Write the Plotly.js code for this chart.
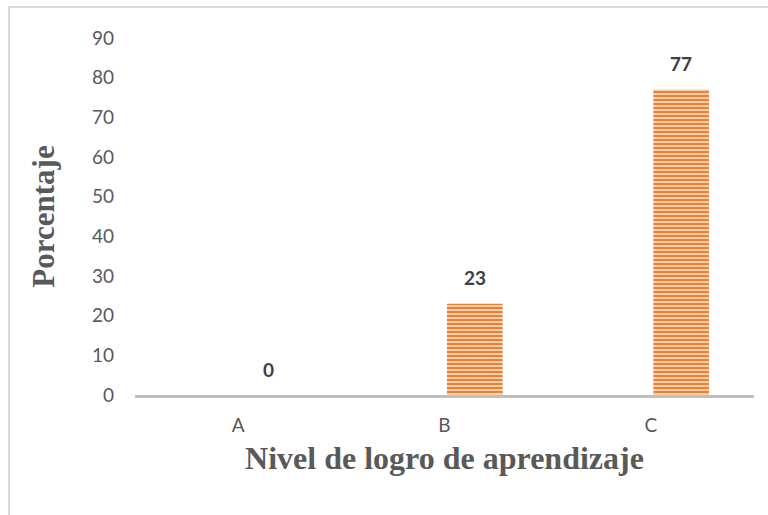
<!DOCTYPE html>
<html>
<head>
<meta charset="utf-8">
<script src="https://cdn.plot.ly/plotly-3.0.1.min.js"></script>
<style>html,body{margin:0;padding:0;background:#fff;}#chart{width:768px;height:515px;}</style>
</head>
<body>
<div id="chart"></div>
<script>
var categories = ["A", "B", "C"];
var values = [0, 23, 77];
var yTicks = [0, 10, 20, 30, 40, 50, 60, 70, 80, 90];
var xTitle = "Nivel de logro de aprendizaje";
var yTitle = "Porcentaje";

var bar = {
  type: "bar",
  x: categories,
  y: values,
  offset: 0.012,
  width: 0.27,
  marker: {
    color: "#f7c39a",
    pattern: { shape: "-", fgcolor: "#e8772c", bgcolor: "#f9cfaa", size: 4, solidity: 0.45 },
    line: { width: 0 }
  },
  hoverinfo: "skip"
};

var annotations = categories.map(function (c, i) {
  return {
    x: c, y: values[i], xref: "x", yref: "y",
    text: "<b>" + values[i] + "</b>",
    showarrow: false, xshift: 30, yshift: 26,
    font: { family: "Lato, 'Open Sans', sans-serif", size: 19, color: "#404040" }
  };
});

var layout = {
  width: 768, height: 515,
  margin: { l: 135, r: 14, t: 38, b: 120 },
  paper_bgcolor: "#ffffff", plot_bgcolor: "#ffffff",
  showlegend: false,
  xaxis: {
    type: "category",
    range: [-0.5, 2.5],
    showgrid: false, zeroline: false,
    showline: true, linecolor: "#bfbfbf", linewidth: 3,
    ticks: "", ticklabelstandoff: 11,
    tickfont: { family: "Lato, 'Open Sans', sans-serif", size: 19, color: "#595959" },
    title: { text: "<b>" + xTitle + "</b>", standoff: 12,
      font: { family: "'Liberation Serif', 'Times New Roman', serif", size: 32, color: "#595959" } }
  },
  yaxis: {
    range: [0, 90],
    tickvals: yTicks,
    showgrid: false, zeroline: false, showline: false,
    ticks: "", ticklabelstandoff: 20,
    tickfont: { family: "Lato, 'Open Sans', sans-serif", size: 19, color: "#595959" },
    title: { text: "<b>" + yTitle + "</b>", standoff: 28,
      font: { family: "'Liberation Serif', 'Times New Roman', serif", size: 31, color: "#595959" } }
  },
  annotations: annotations,
  shapes: [{
    type: "rect", xref: "paper", yref: "paper",
    x0: -0.2036, x1: 1.03, y0: -0.36, y1: 1.0868,
    line: { color: "#d9d9d9", width: 2 }, fillcolor: "rgba(0,0,0,0)", layer: "below"
  }]
};

Plotly.newPlot("chart", [bar], layout, { displayModeBar: false, staticPlot: true });
</script>
</body>
</html>
